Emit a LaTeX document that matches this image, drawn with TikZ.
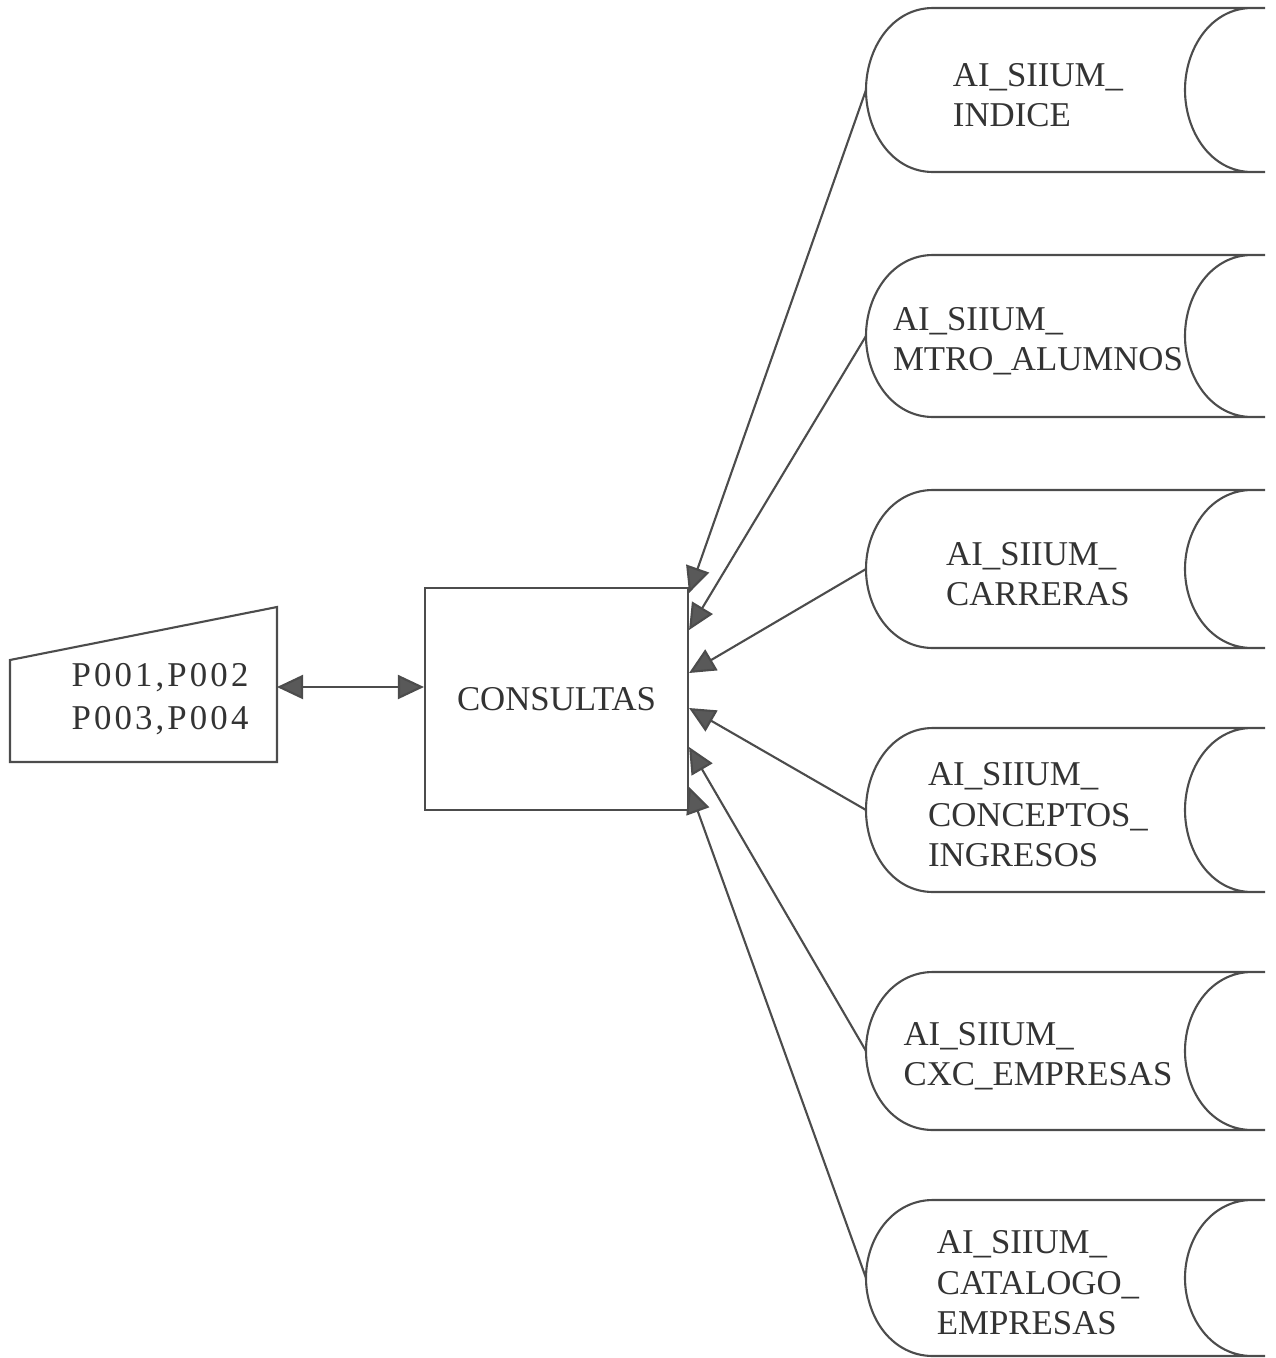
\documentclass[tikz,border=0pt]{standalone}
\usepackage{fontspec}
\setmainfont{Liberation Serif}
\usetikzlibrary{arrows.meta,calc}

\tikzset{
  flujo/.style={draw=black!70, line width=0.6pt},
  punta/.style={-{Triangle[length=2.6mm,width=2.4mm,fill=black!65]}},
  texto/.style={font=\fontsize{9.9}{11.5}\selectfont, text=black!80, align=left},
}

\begin{document}
\begin{tikzpicture}[x=0.1mm,y=-0.1mm]
    \useasboundingbox (0,0) rectangle (1276,1358);

    % Pantalla de entrada
    \draw[flujo] (10,660) -- (277,607) -- (277,762) -- (10,762) -- cycle;
    \node[texto, align=center, font=\fontsize{9.9}{12.2}\selectfont\addfontfeature{LetterSpace=9}] (pant) at (160,699) {P001,P002\\P003,P004};
    \coordinate (pantder) at (277,687);

    % Proceso
    \node[flujo, texto, minimum width=26.3mm, minimum height=22.2mm] (cons) at (556.5,699) {CONSULTAS};
    \draw[flujo, {Triangle[length=2.6mm,width=2.4mm,fill=black!65]}-{Triangle[length=2.6mm,width=2.4mm,fill=black!65]}]
        (pantder) -- (pantder -| cons.west);

    % Almacenes de datos
    \foreach \nom/\ya/\yb/\txt in {ind/8/172/{AI\_SIIUM\_\\INDICE},
                                  alu/255/417/{AI\_SIIUM\_\\MTRO\_ALUMNOS},
                                  car/490/648/{AI\_SIIUM\_\\CARRERAS},
                                  con/728/892/{AI\_SIIUM\_\\CONCEPTOS\_\\INGRESOS},
                                  cxc/972/1130/{AI\_SIIUM\_\\CXC\_EMPRESAS},
                                  cat/1200/1356/{AI\_SIIUM\_\\CATALOGO\_\\EMPRESAS}} {
        \draw[flujo] (933,\ya) -- (1265,\ya) (933,\yb) -- (1265,\yb)
            (933,\ya) to[out=180,in=90] (866,{(\ya+\yb)/2}) to[out=-90,in=180] (933,\yb)
            (1252,\ya) to[out=180,in=90] (1185,{(\ya+\yb)/2}) to[out=-90,in=180] (1252,\yb);
        \coordinate (\nom) at (866,{(\ya+\yb)/2});
        \node[texto] (\nom txt) at (1038,{(\ya+\yb)/2+5}) {\txt};
    }

    % Flujos hacia consultas
    \foreach \nom/\dy in {ind/-106, alu/-69, car/-26, con/9, cxc/48, cat/88}
        \draw[flujo, punta] (\nom) -- ($(cons.east)+(0,\dy)$);
\end{tikzpicture}
\end{document}
